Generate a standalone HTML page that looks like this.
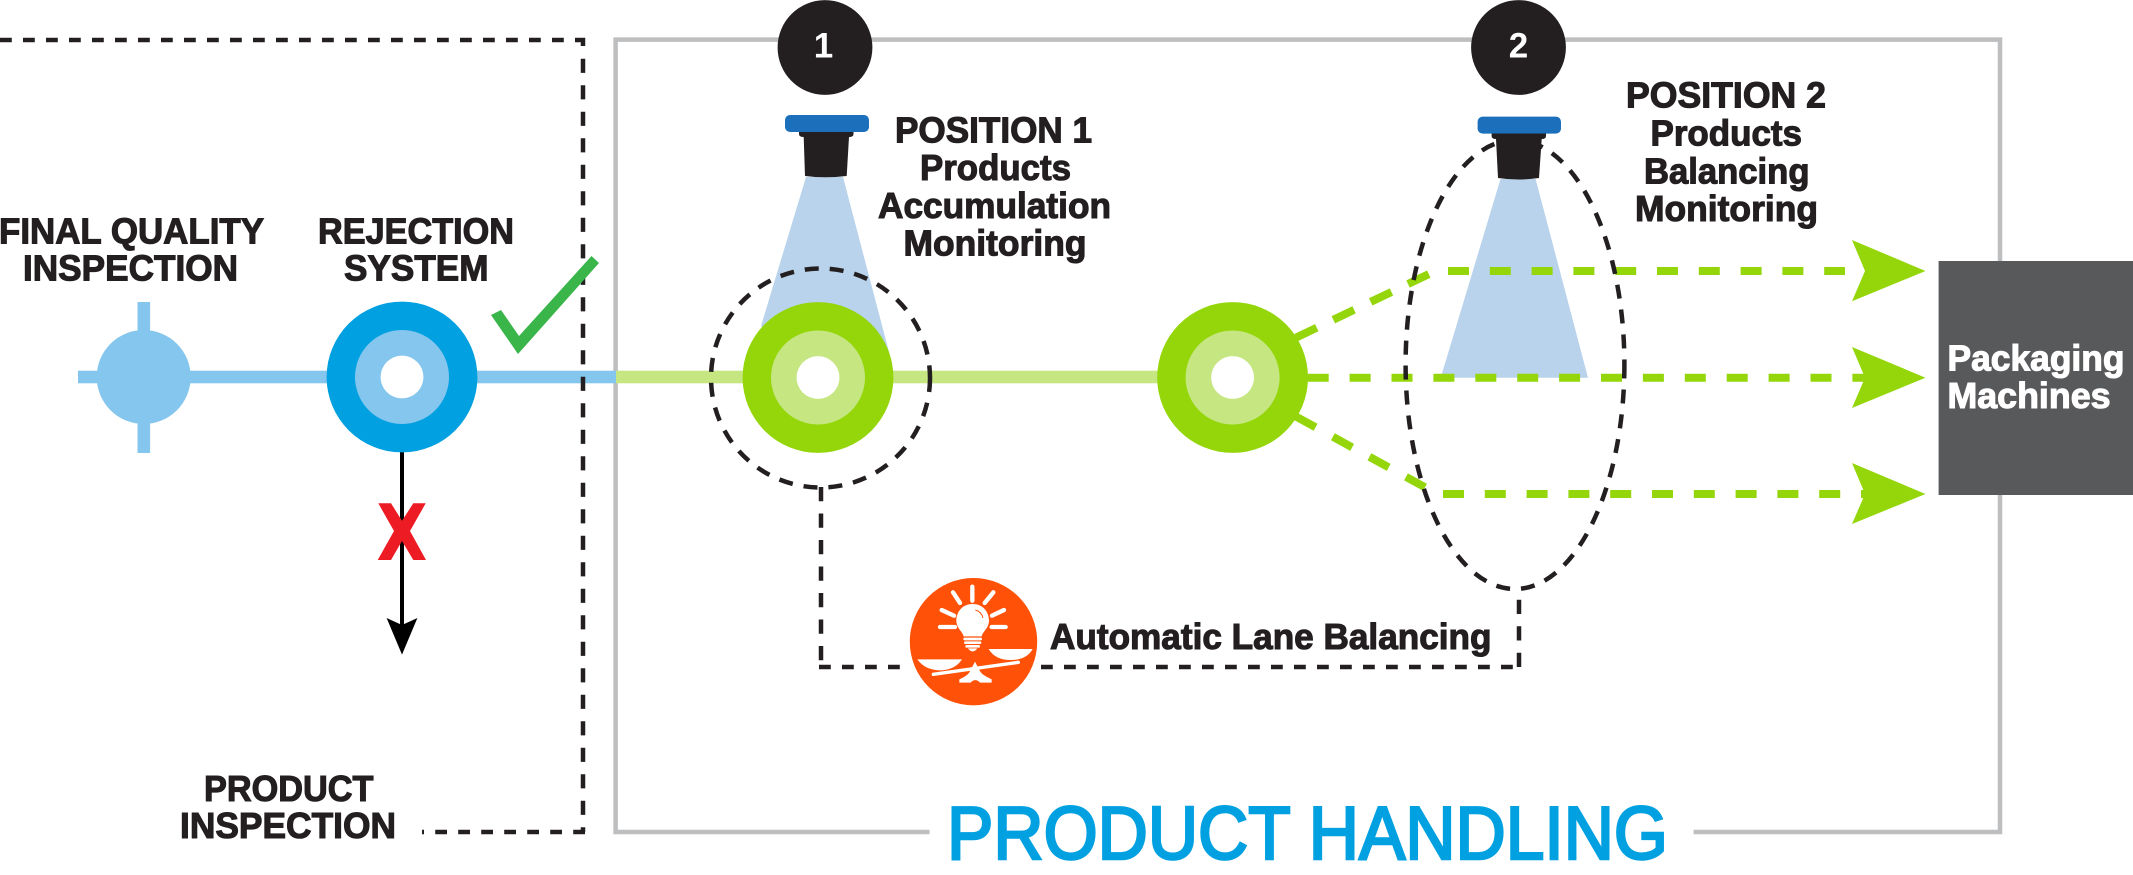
<!DOCTYPE html>
<html>
<head>
<meta charset="utf-8">
<style>
html,body{margin:0;padding:0;background:#fff;width:2133px;height:875px;overflow:hidden}
svg{display:block}
text{font-family:"Liberation Sans",sans-serif;font-weight:bold}
.d{fill:#231f20;stroke:#231f20;stroke-width:1.1;font-size:36px}
.k,.h,.v{fill:none;stroke:#231f20;stroke-width:4.5}
.k{stroke-dasharray:14 11}
.h{stroke-dasharray:11.8 11.200}
.v{stroke-dasharray:14.200 12.300}
.g{fill:none;stroke:#94d60a;stroke-width:8}
</style>
</head>
<body>
<svg width="2133" height="875" viewBox="0 0 2133 875" xmlns="http://www.w3.org/2000/svg">
<rect width="2133" height="875" fill="#fff"/>

<!-- frames -->
<path d="M929.5 832H615.6V39.6H2000V832H1693.6" fill="none" stroke="#bcbec0" stroke-width="4.5"/>

<!-- main lines -->
<rect x="78" y="370.7" width="538" height="12.6" fill="#85c6ee"/>
<rect x="616" y="370.7" width="620" height="12.6" fill="#c5e681"/>

<!-- inspection node -->
<rect x="137.5" y="302" width="12.6" height="151" fill="#85c6ee"/>
<circle cx="143.7" cy="377" r="47" fill="#85c6ee"/>

<!-- rejection -->
<rect x="400" y="450" width="4" height="176" fill="#000"/>
<polygon points="386.6,618 402,625 417.4,618 402,654.6" fill="#000"/>
<polygon points="378.300,503.300 391,503.300 402,520.700 413.300,503.300 425.700,503.300 410,531 426,560 413.300,560 402,541 391,560 377.700,560 394,531" fill="#ed1c24"/>
<circle cx="402" cy="377" r="75.4" fill="#00a0e1"/>
<circle cx="402" cy="377" r="47" fill="#85c6ee"/>
<circle cx="402" cy="377" r="21.4" fill="#fff"/>

<!-- product inspection dashed frame -->
<path class="h" d="M0 40H576"/>
<path d="M576 40H583V46" fill="none" stroke="#231f20" stroke-width="4.5"/>
<path class="v" d="M583 58.700V832"/>
<path class="h" d="M585 832H422"/>

<!-- check -->
<polygon points="491,315 501,310 519,336 591.5,256 599,263 518,354" fill="#39b54a"/>

<!-- beams -->
<polygon points="806,177 843,177 889,352 818,378 761,326" fill="#b8d3eb"/>
<polygon points="1500.5,179 1535.6,179 1588,377.8 1440.7,377.8" fill="#b8d3eb"/>

<!-- green nodes -->
<circle cx="818" cy="377.5" r="75.4" fill="#94d60a"/>
<circle cx="818" cy="377.5" r="47" fill="#c5e681"/>
<circle cx="818" cy="377.5" r="21.4" fill="#fff"/>

<circle class="k" cx="820.5" cy="378" r="109.5"/>

<!-- green dashed -->
<path class="g" d="M1296 337.6L1429 274" stroke-dasharray="23 18.4"/>
<path class="g" d="M1296.3 416.7L1425 487.3" stroke-dasharray="22 19.7"/>
<path class="g" d="M1448 271H1845" stroke-dasharray="21 20.8"/>
<path class="g" d="M1307.7 377.7H1870" stroke-dasharray="21 20.9"/>
<path class="g" d="M1443 494H1870" stroke-dasharray="21 20.8"/>
<polygon points="1852,240 1925.5,271 1852,301.3 1865,271" fill="#94d60a"/>
<polygon points="1852,347 1925.5,377.7 1852,408 1865,377.7" fill="#94d60a"/>
<polygon points="1852,463 1925.5,494 1852,524 1865,494" fill="#94d60a"/>

<circle cx="1232.6" cy="377.5" r="75.4" fill="#94d60a"/>
<circle cx="1232.6" cy="377.5" r="47" fill="#c5e681"/>
<circle cx="1232.6" cy="377.5" r="21.4" fill="#fff"/>

<!-- dashed ellipse and connector -->
<ellipse class="k" cx="1515" cy="364.5" rx="109.4" ry="224.5"/>
<path class="v" d="M821 487V665"/>
<path class="h" d="M819 667H910"/>
<path class="h" d="M1041 667H1519"/>
<path class="v" d="M1519 667V589"/>

<!-- speakers -->
<rect x="785" y="115" width="84" height="17" rx="5" fill="#1c70bb"/>
<path d="M799 132H853.500V134Q853.500 137 849 137L846.700 176Q825 178.500 805 176L803.700 137Q799 137 799 134Z" fill="#231f20"/>
<rect x="1477.6" y="116.600" width="83.400" height="17" rx="5" fill="#1c70bb"/>
<path d="M1491.600 133.500H1546V136Q1546 139 1541.700 139L1539 178Q1518 181 1498 178L1496 139Q1491.600 139 1491.600 136Z" fill="#231f20"/>

<!-- number badges -->
<circle cx="825" cy="47.500" r="47.400" fill="#231f20"/>
<circle cx="1518.500" cy="47.500" r="47.400" fill="#231f20"/>
<text x="823.500" y="57.500" text-anchor="middle" font-size="35" fill="#fff">1</text>
<text x="1518.500" y="57.500" text-anchor="middle" font-size="35" fill="#fff">2</text>

<!-- orange icon -->
<circle cx="973.500" cy="641.700" r="63.700" fill="#ff5208"/>
<g transform="translate(890 560) scale(.33333)">
  <g stroke="#fff" stroke-width="13" stroke-linecap="round" fill="none">
    <path d="M247 80V122M189 97L210 129M310 97L284 129M155 150L192 167M342 150L306 167M150 201H195M305 201H347"/>
  </g>
  <path d="M248 132C215 132 199 158 199 182C199 204 217 214 221 229H275C279 214 297 204 297 182C297 158 281 132 248 132Z" fill="#fff"/>
  <path d="M256 150C268 153 276 162 279 174" fill="none" stroke="#ff5208" stroke-width="3"/>
  <rect x="220" y="233" width="56" height="8" rx="4" fill="#fff"/>
  <rect x="222" y="244" width="52" height="8" rx="4" fill="#fff"/>
  <rect x="226" y="255" width="44" height="8" rx="4" fill="#fff"/>
  <path d="M234 265H262Q256 274 248 274Q240 274 234 265Z" fill="#fff"/>
  <path d="M296 267H428Q410 300 362 300Q315 300 296 267Z" fill="#fff"/>
  <path d="M82 298H216Q195 330 150 331Q105 330 82 298Z" fill="#fff"/>
  <path d="M130 343L385 307" stroke="#fff" stroke-width="10" stroke-linecap="round"/>
  <path d="M255 305L268 330C275 345 290 350 305 358V368H270C262 358 250 358 242 368H208V358C225 350 235 345 242 330Z" fill="#fff"/>
</g>

<!-- packaging -->
<rect x="1938.600" y="261" width="194.400" height="234" fill="#58595b"/>

<!-- labels -->
<text class="d" x="-1" y="243.500" textLength="265" lengthAdjust="spacingAndGlyphs">FINAL QUALITY</text>
<text class="d" x="23" y="280.700" textLength="215" lengthAdjust="spacingAndGlyphs">INSPECTION</text>
<text class="d" x="318" y="243.500" textLength="196" lengthAdjust="spacingAndGlyphs">REJECTION</text>
<text class="d" x="344" y="280.700" textLength="144.500" lengthAdjust="spacingAndGlyphs">SYSTEM</text>
<text class="d" x="204" y="800.800" textLength="169.500" lengthAdjust="spacingAndGlyphs">PRODUCT</text>
<text class="d" x="180" y="838" textLength="216" lengthAdjust="spacingAndGlyphs">INSPECTION</text>

<text class="d" x="895" y="142.300" textLength="197" lengthAdjust="spacingAndGlyphs">POSITION 1</text>
<text class="d" x="920" y="180" textLength="151" lengthAdjust="spacingAndGlyphs">Products</text>
<text class="d" x="878" y="218" textLength="233" lengthAdjust="spacingAndGlyphs">Accumulation</text>
<text class="d" x="903.500" y="255.600" textLength="183" lengthAdjust="spacingAndGlyphs">Monitoring</text>

<text class="d" x="1626" y="107.700" textLength="200" lengthAdjust="spacingAndGlyphs">POSITION 2</text>
<text class="d" x="1650.500" y="145.600" textLength="151.500" lengthAdjust="spacingAndGlyphs">Products</text>
<text class="d" x="1644" y="183.600" textLength="165.500" lengthAdjust="spacingAndGlyphs">Balancing</text>
<text class="d" x="1635" y="221" textLength="183" lengthAdjust="spacingAndGlyphs">Monitoring</text>

<text class="d" x="1050" y="649" textLength="441.500" lengthAdjust="spacingAndGlyphs">Automatic Lane Balancing</text>

<text x="1947.500" y="370.500" font-size="36" fill="#fff" stroke="#fff" stroke-width="1.1" textLength="177" lengthAdjust="spacingAndGlyphs">Packaging</text>
<text x="1947.500" y="408" font-size="36" fill="#fff" stroke="#fff" stroke-width="1.1" textLength="163" lengthAdjust="spacingAndGlyphs">Machines</text>

<text x="947" y="859" font-size="75" fill="#00a0e1" textLength="721" lengthAdjust="spacingAndGlyphs" style="font-weight:normal" stroke="#00a0e1" stroke-width="2.600">PRODUCT HANDLING</text>
</svg>
</body>
</html>
